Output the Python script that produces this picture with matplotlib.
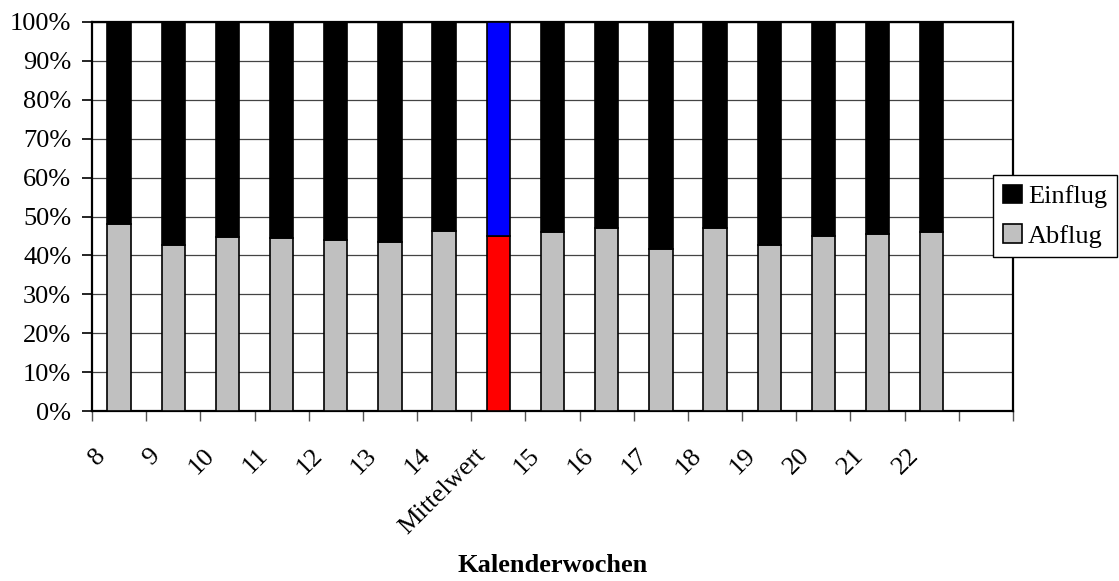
import matplotlib
matplotlib.use("Agg")
import matplotlib.pyplot as plt
import numpy as np
from matplotlib.transforms import ScaledTranslation
from matplotlib.ticker import FixedLocator, PercentFormatter

plt.rcParams['font.family'] = ['Liberation Serif', 'DejaVu Serif']

# Calendar weeks, with the average inserted after week 14
categories = ['8', '9', '10', '11', '12', '13', '14', 'Mittelwert',
              '15', '16', '17', '18', '19', '20', '21', '22']
# Share of departures (Abflug) in percent; arrivals (Einflug) fill up to 100 %
abflug = [48.0, 42.6, 44.7, 44.5, 44.0, 43.4, 46.2, 45.0,
          46.0, 47.0, 41.6, 47.0, 42.7, 45.0, 45.5, 46.1]
einflug = [100 - v for v in abflug]
mean_label = 'Mittelwert'
n_slots = 17  # one empty slot at the right end

W, H = 1119, 581
FS = 19
fig = plt.figure(figsize=(W / 100, H / 100), dpi=100)
ax = fig.add_axes([92 / W, (H - 411) / H, (1013 - 92) / W, (411 - 22) / H])

x = np.arange(len(categories)) + 0.5
low_colors = ['#FF0000' if c == mean_label else '#C0C0C0' for c in categories]
high_colors = ['#0000FF' if c == mean_label else '#000000' for c in categories]

bw = 0.43
ax.bar(x, abflug, width=bw, color=low_colors, edgecolor='black', linewidth=1.2,
       zorder=3, label='Abflug')
ax.bar(x, einflug, bottom=abflug, width=bw, color=high_colors, edgecolor='black',
       linewidth=1.2, zorder=3, label='Einflug')

ax.set_xlim(0, n_slots)
ax.set_ylim(0, 100)

# y axis
ax.yaxis.set_major_locator(FixedLocator(np.arange(0, 101, 10)))
ax.yaxis.set_major_formatter(PercentFormatter(decimals=0))
ax.tick_params(axis='y', which='major', direction='out', length=7, width=1.2,
               color='black', labelsize=FS, pad=8)
ax.grid(axis='y', color='#444444', linewidth=0.9, zorder=0)

# x axis: tick marks at slot edges, labels under slot centres
ax.xaxis.set_major_locator(FixedLocator(np.arange(0, n_slots + 1)))
ax.xaxis.set_major_formatter(plt.NullFormatter())
ax.xaxis.set_minor_locator(FixedLocator(x))
ax.set_xticklabels(categories, minor=True)
ax.tick_params(axis='x', which='major', direction='out', length=7, width=1.0,
               color='#555555')
ax.tick_params(axis='x', which='minor', length=0, labelsize=FS, pad=24)
shift = ScaledTranslation(-9 / 100, 0, fig.dpi_scale_trans)
for lab in ax.xaxis.get_minorticklabels():
    lab.set_rotation(45)
    lab.set_ha('right')
    lab.set_va('top')
    lab.set_transform(lab.get_transform() + shift)

for s in ax.spines.values():
    s.set_linewidth(1.6)
    s.set_color('black')

fig.text(552.5 / W, (H - 566) / H, 'Kalenderwochen', ha='center', va='center',
         fontsize=FS, fontweight='bold')

handles, labels = ax.get_legend_handles_labels()
leg = fig.legend(handles[::-1], labels[::-1], loc='upper left',
                 bbox_to_anchor=(993 / W, 1 - 175 / H), borderaxespad=0,
                 fontsize=FS, frameon=True, fancybox=False, edgecolor='black',
                 framealpha=1, handlelength=0.72, handleheight=0.7,
                 handletextpad=0.25, borderpad=0.36, labelspacing=0.62)
leg.get_frame().set_linewidth(1.0)
leg.set_zorder(10)

fig.savefig('out.png', dpi=100)
